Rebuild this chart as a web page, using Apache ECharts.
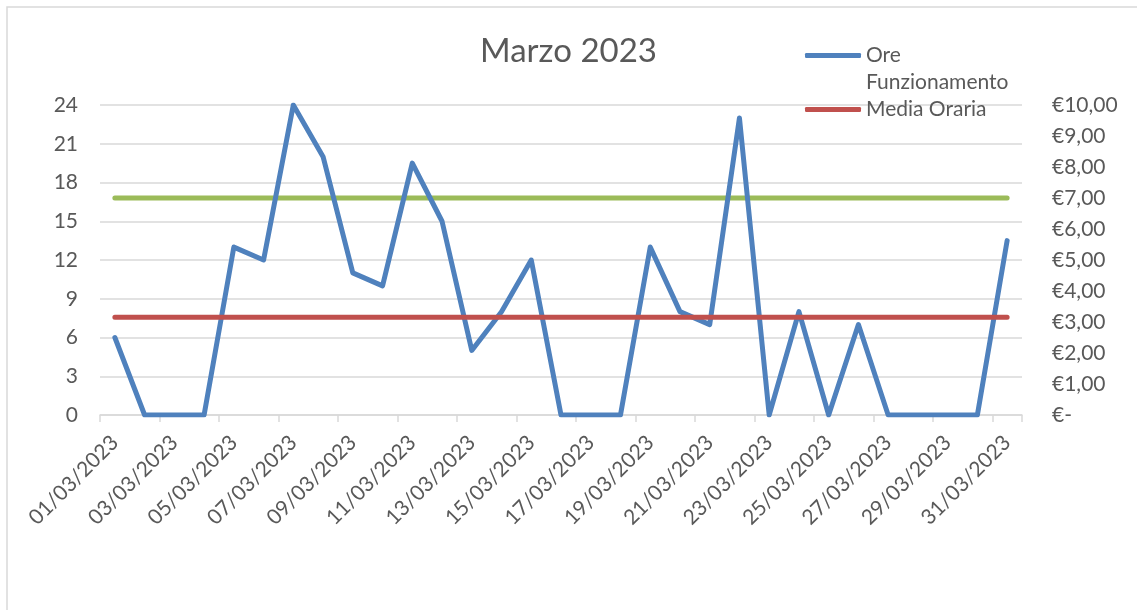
<!DOCTYPE html>
<html>
<head>
<meta charset="utf-8">
<script src="https://cdn.jsdelivr.net/npm/echarts@6/dist/echarts.min.js"></script>
<style>
  html, body { margin: 0; padding: 0; background: #fff; }
  #chart { width: 1137px; height: 610px; }
</style>
</head>
<body>
<div id="chart"></div>
<script>
// dati marzo 2023
const giorni = [
  '01/03/2023', '02/03/2023', '03/03/2023', '04/03/2023', '05/03/2023', '06/03/2023',
  '07/03/2023', '08/03/2023', '09/03/2023', '10/03/2023', '11/03/2023', '12/03/2023',
  '13/03/2023', '14/03/2023', '15/03/2023', '16/03/2023', '17/03/2023', '18/03/2023',
  '19/03/2023', '20/03/2023', '21/03/2023', '22/03/2023', '23/03/2023', '24/03/2023',
  '25/03/2023', '26/03/2023', '27/03/2023', '28/03/2023', '29/03/2023', '30/03/2023',
  '31/03/2023'
];
const oreFunzionamento = [
  6, 0, 0, 0, 13, 12, 24, 20, 11, 10, 19.5, 15, 5, 8, 12, 0,
  0, 0, 13, 8, 7, 23, 0, 8, 0, 7, 0, 0, 0, 0, 13.5
];
const mediaOraria = [
  3.15, 3.15, 3.15, 3.15, 3.15, 3.15, 3.15, 3.15, 3.15, 3.15, 3.15, 3.15, 3.15, 3.15, 3.15, 3.15,
  3.15, 3.15, 3.15, 3.15, 3.15, 3.15, 3.15, 3.15, 3.15, 3.15, 3.15, 3.15, 3.15, 3.15, 3.15
];
const riferimento = [
  7, 7, 7, 7, 7, 7, 7, 7, 7, 7, 7, 7, 7, 7, 7, 7,
  7, 7, 7, 7, 7, 7, 7, 7, 7, 7, 7, 7, 7, 7, 7
];

const FONT = 'Lato';
const GREY = '#595959';
const LINEGRID = '#d9d9d9';

const chart = echarts.init(document.getElementById('chart'));

// formato euro stile Excel
function euro(v) {
  if (v === 0) return '€-';
  return '€' + v.toFixed(2).replace('.', ',');
}

chart.setOption({
  animation: false,
  backgroundColor: '#fff',
  textStyle: { fontFamily: FONT, color: GREY },
  title: {
    text: 'Marzo 2023',
    left: 'center',
    top: 30,
    textStyle: { fontFamily: FONT, fontSize: 33, fontWeight: 'normal', color: GREY }
  },
  legend: [
    {
      // riga vuota sopra per tenere "Ore" allineato con la linea
      data: ['Ore Funzionamento'],
      orient: 'vertical',
      left: 805,
      top: 15,
      padding: 0,
      itemWidth: 56,
      itemHeight: 5,
      icon: 'roundRect',
      formatter: () => ' \nOre\nFunzionamento',
      textStyle: { fontFamily: FONT, fontSize: 21, color: GREY, lineHeight: 27 }
    },
    {
      data: ['Media Oraria'],
      orient: 'vertical',
      left: 805,
      top: 96,
      padding: 0,
      itemWidth: 56,
      itemHeight: 5,
      icon: 'roundRect',
      textStyle: { fontFamily: FONT, fontSize: 21, color: GREY, lineHeight: 27 }
    }
  ],
  graphic: [
    {
      type: 'rect',
      shape: { x: 7, y: 7, width: 1150, height: 620 },
      style: { fill: 'none', stroke: LINEGRID, lineWidth: 1.5 },
      silent: true
    }
  ],
  grid: { left: 100, right: 115, top: 105, bottom: 195 },
  xAxis: {
    type: 'category',
    data: giorni,
    boundaryGap: true,
    axisLine: { lineStyle: { color: LINEGRID, width: 1.5 } },
    axisTick: { show: true, interval: 1, length: 7, lineStyle: { color: LINEGRID, width: 1.5 } },
    axisLabel: { interval: 1, rotate: 45, margin: 24, fontFamily: FONT, fontSize: 21, color: GREY }
  },
  yAxis: [
    {
      type: 'value',
      min: 0,
      max: 24,
      interval: 3,
      axisLine: { show: false },
      axisTick: { show: false },
      splitLine: { lineStyle: { color: LINEGRID, width: 1.5 } },
      axisLabel: { margin: 22, fontFamily: FONT, fontSize: 21, color: GREY }
    },
    {
      type: 'value',
      position: 'right',
      min: 0,
      max: 10,
      interval: 1,
      axisLine: { show: false },
      axisTick: { show: false },
      splitLine: { show: false },
      axisLabel: { margin: 30, align: 'left', fontFamily: FONT, fontSize: 21, color: GREY, formatter: euro }
    }
  ],
  series: [
    {
      name: 'Ore Funzionamento',
      type: 'line',
      data: oreFunzionamento,
      yAxisIndex: 0,
      symbol: 'none',
      color: '#4f81bd',
      lineStyle: { width: 5, cap: 'round', join: 'round' }
    },
    {
      name: 'Media Oraria',
      type: 'line',
      data: mediaOraria,
      yAxisIndex: 1,
      symbol: 'none',
      color: '#c0504d',
      lineStyle: { width: 5, cap: 'round' }
    },
    {
      name: 'Riferimento',
      type: 'line',
      data: riferimento,
      yAxisIndex: 1,
      symbol: 'none',
      color: '#9bbb59',
      lineStyle: { width: 5, cap: 'round' },
      z: 1
    }
  ]
});
</script>
</body>
</html>
